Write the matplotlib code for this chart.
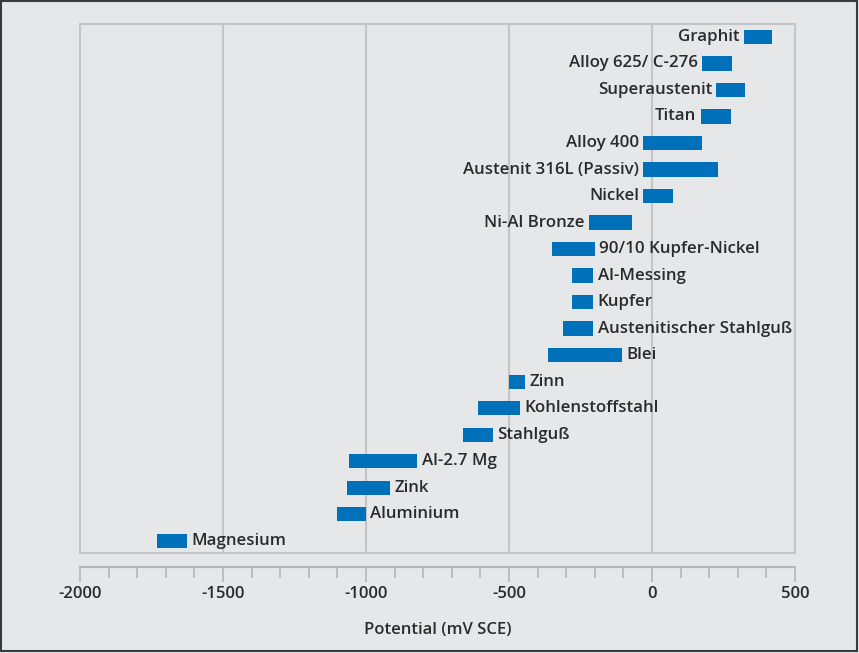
import matplotlib
matplotlib.use("Agg")
import matplotlib.pyplot as plt
from matplotlib.patches import Rectangle
from matplotlib.ticker import MultipleLocator

materials = ["Graphit", "Alloy 625/ C-276", "Superaustenit", "Titan", "Alloy 400",
             "Austenit 316L (Passiv)", "Nickel", "Ni-Al Bronze", "90/10 Kupfer-Nickel",
             "Al-Messing", "Kupfer", "Austenitischer Stahlguß", "Blei", "Zinn",
             "Kohlenstoffstahl", "Stahlguß", "Al-2.7 Mg", "Zink", "Aluminium", "Magnesium"]
pot_low = [320, 175, 225, 170, -30, -30, -30, -220, -350, -280, -280, -310, -365, -500,
           -610, -660, -1060, -1065, -1100, -1730]
pot_high = [420, 280, 325, 275, 175, 230, 75, -70, -200, -205, -205, -205, -105, -445,
            -460, -555, -820, -915, -1000, -1625]
label_left = [True] * 8 + [False] * 12
xticks = [-2000, -1500, -1000, -500, 0, 500]

plt.rcParams['font.family'] = ['Open Sans', 'DejaVu Sans']
plt.rcParams['axes.unicode_minus'] = False
BG = '#e6e7e9'
BAR = '#0070ba'
GRID = '#c4c5c7'
TXT = '#2b2b2b'

fig = plt.figure(figsize=(8.59, 6.53), dpi=100, facecolor=BG)
ax = fig.add_axes([80/859, 100/653, 715/859, 529/653])
ax.set_facecolor(BG)

n = len(materials)
ys = [n - 1 - i for i in range(n)]
widths = [h - l for l, h in zip(pot_low, pot_high)]
ax.barh(ys, widths, left=pot_low, height=0.53, color=BAR, zorder=3)

for y, lo, hi, name, left in zip(ys, pot_low, pot_high, materials, label_left):
    if left:
        ax.text(lo - 15, y, name, ha='right', va='center', fontsize=12.2,
                fontweight='semibold', color=TXT, zorder=4)
    else:
        ax.text(hi + 15, y, name, ha='left', va='center', fontsize=12.2,
                fontweight='semibold', color=TXT, zorder=4)

ax.set_xlim(-2000, 500)
ax.set_ylim(-0.47, n - 1 + 0.49)
for v in xticks[1:-1]:
    ax.axvline(v, color=GRID, lw=1.5, zorder=1)

for s in ['top', 'left', 'right']:
    ax.spines[s].set_visible(False)
ax.spines['bottom'].set_position(('outward', 10))
ax.spines['bottom'].set_color('#b5b6b8')
ax.spines['bottom'].set_linewidth(1.5)
ax.add_patch(Rectangle((0, 0), 1, 1, transform=ax.transAxes, fill=False,
                       edgecolor=GRID, lw=1.5, clip_on=False, zorder=2))

ax.set_yticks([])
ax.set_xticks(xticks)
ax.xaxis.set_minor_locator(MultipleLocator(100))
ax.tick_params(axis='x', which='major', length=11, width=1.2, color='#b5b6b8',
               labelsize=12, labelcolor=TXT, pad=3)
ax.tick_params(axis='x', which='minor', length=8, width=1.2, color='#b5b6b8')
for lab in ax.get_xticklabels():
    lab.set_fontweight('semibold')
ax.set_xlabel('Potential (mV SCE)', fontsize=12, fontweight='semibold', color=TXT,
              labelpad=14)

fig.patches.append(Rectangle((0.001, 0.003), 0.997, 0.995, transform=fig.transFigure,
                             fill=False, edgecolor='#3a3a3a', lw=1.5))

fig.savefig('out.png', dpi=100, facecolor=BG)
